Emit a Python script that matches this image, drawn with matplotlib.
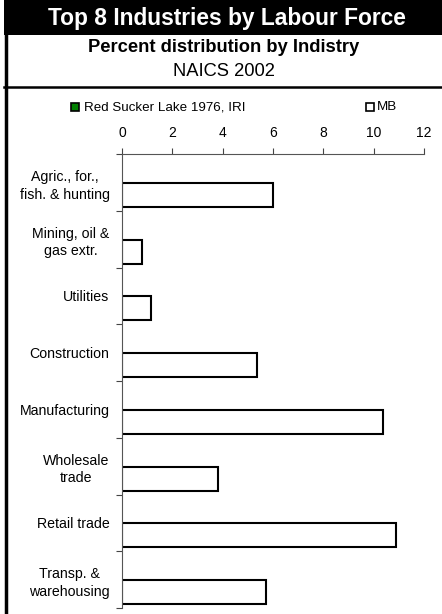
import matplotlib
matplotlib.use('Agg')
import matplotlib.pyplot as plt
from matplotlib.patches import Rectangle
from matplotlib.lines import Line2D
import numpy as np

plt.rcParams['font.family'] = ['Liberation Sans', 'DejaVu Sans']

industries = ['Agric., for.,\nfish. & hunting', 'Mining, oil &\ngas extr.', 'Utilities',
              'Construction', 'Manufacturing', 'Wholesale\ntrade', 'Retail trade',
              'Transp. &\nwarehousing']
red_sucker = [np.nan] * 8
mb = [6.0, 0.8, 1.15, 5.35, 10.38, 3.83, 10.87, 5.72]
x_ticks = [0, 2, 4, 6, 8, 10, 12]

W, H = 442, 614
fig = plt.figure(figsize=(W / 100, H / 100), dpi=100)

# header
fig.patches.append(Rectangle((4 / W, 1 - 35 / H), 1 - 4 / W, 35 / H, transform=fig.transFigure,
                             facecolor='black', edgecolor='none'))
fig.lines.append(Line2D([5.5 / W, 5.5 / W], [0, 1], transform=fig.transFigure, color='black', lw=2.5))
fig.lines.append(Line2D([4 / W, 1], [1 - 86.5 / H, 1 - 86.5 / H], transform=fig.transFigure,
                        color='black', lw=1.8))
fig.text(227 / W, 1 - 18 / H, 'Top 8 Industries by Labour Force', color='white', fontsize=16.4,
         fontweight='bold', ha='center', va='center')
fig.text(224 / W, 1 - 47 / H, 'Percent distribution by Indistry', fontsize=13.2,
         fontweight='bold', ha='center', va='center')
fig.text(224 / W, 1 - 72 / H, 'NAICS 2002', fontsize=13.2, ha='center', va='center')

# legend
fig.patches.append(Rectangle((71 / W, 1 - 111 / H), 8 / W, 8 / H, transform=fig.transFigure,
                             facecolor='#008000', edgecolor='black', lw=1.2))
fig.text(84 / W, 1 - 107 / H, 'Red Sucker Lake 1976, IRI', fontsize=9.6, ha='left', va='center')
fig.patches.append(Rectangle((366 / W, 1 - 111 / H), 8 / W, 8 / H, transform=fig.transFigure,
                             facecolor='white', edgecolor='black', lw=1.2))
fig.text(377 / W, 1 - 107 / H, 'MB', fontsize=9.6, ha='left', va='center')

ax = fig.add_axes([122 / W, 1 - 608 / H, (424 - 122) / W, (608 - 154) / H])
y = np.arange(len(industries))
ax.barh(y - 0.22, red_sucker, height=0.42, color='#008000', edgecolor='black', lw=1.5)
ax.barh(y + 0.22, mb, height=0.42, color='white', edgecolor='black', lw=1.5)

ax.set_xlim(0, 12)
ax.set_ylim(len(industries) - 0.5, -0.5)
ax.xaxis.tick_top()
ax.set_xticks(x_ticks)
ax.set_xticklabels([str(t) for t in x_ticks])
ax.tick_params(axis='x', length=4, width=0.8, color='#444444', labelsize=10, pad=6)

ax.set_yticks(y)
ax.set_yticklabels(industries, fontsize=10.2, multialignment='center', linespacing=1.35)
ax.tick_params(axis='y', which='major', length=0, pad=9)
ax.set_yticks(np.arange(-0.5, len(industries), 1), minor=True)
ax.tick_params(axis='y', which='minor', length=4, width=0.8, color='#444444')

for s in ['right', 'bottom']:
    ax.spines[s].set_visible(False)
for s in ['left', 'top']:
    ax.spines[s].set_color('#555555')
    ax.spines[s].set_linewidth(0.8)

fig.savefig('out.png', dpi=100)
